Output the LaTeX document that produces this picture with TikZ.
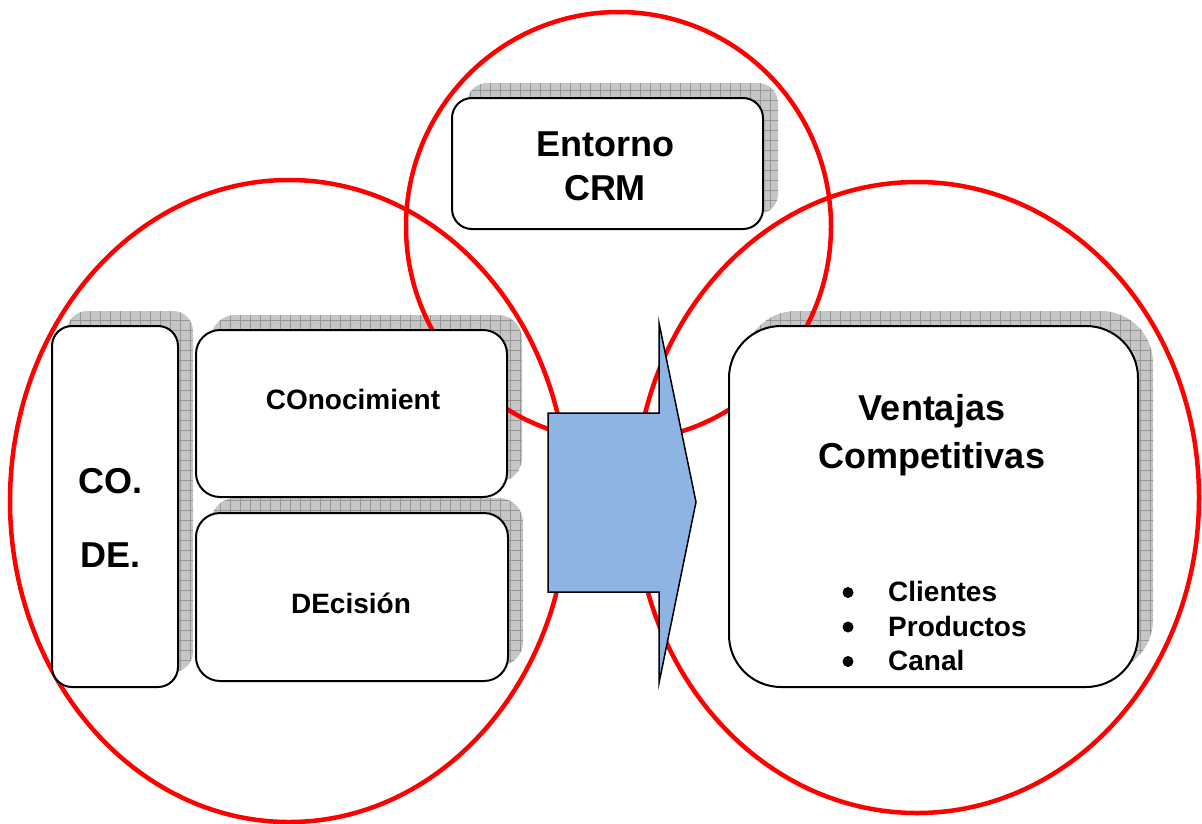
\documentclass[tikz,border=0pt]{standalone}
\usepackage{fontspec}
\setmainfont{Liberation Sans}

\pgfdeclarelayer{shadowlayer}
\pgfdeclarelayer{ringlayer}
\pgfsetlayers{shadowlayer,ringlayer,main}

\definecolor{ringred}{RGB}{255,0,0}
\definecolor{arrowblue}{RGB}{141,180,226}
\definecolor{shadowgray}{RGB}{198,198,198}
\definecolor{gridgray}{RGB}{150,150,150}

\tikzset{
  card/.style={draw=black, line width=2pt, fill=white, rounded corners=#1,
    inner sep=0pt, outer sep=0pt},
  cardshadow/.style={fill=shadowgray, rounded corners=#1,
    path picture={\draw[gridgray, line width=0.5pt, step=10pt]
      (path picture bounding box.south west) grid (path picture bounding box.north east);}},
  ring/.style={draw=ringred, line width=4.5pt},
  bigtext/.style={font=\fontsize{36}{#1}\selectfont\bfseries, inner sep=0pt, anchor=base},
  smalltext/.style={font=\fontsize{28}{34.5}\selectfont\bfseries, inner sep=0pt},
  blockarrow/.style={fill=arrowblue, draw=black, line width=1.5pt, line join=miter},
}

\begin{document}
\begin{tikzpicture}[x=1pt, y=-1pt]
  \useasboundingbox (0,0) rectangle (1202,823);

  % boxes
  \node[card=20, minimum width=126pt, minimum height=361pt] (code) at (115,506.5) {};
  \node[card=24, minimum width=311pt, minimum height=167pt] (cono) at (351.5,413.5) {};
  \node[card=24, minimum width=312pt, minimum height=168pt] (deci) at (352,597) {};
  \node[card=20, minimum width=311pt, minimum height=131pt] (entorno) at (607.5,163.5) {};
  \node[card=52, minimum width=409pt, minimum height=361pt] (ventajas) at (933.5,506.5) {};

  % grid shadows behind the boxes, offset up and to the right
  \begin{pgfonlayer}{shadowlayer}
    \foreach \b/\r in {code/20, cono/24, deci/24, entorno/20, ventajas/52}{
      \path[cardshadow=\r] ([shift={(15,-15)}]\b.south west) rectangle ([shift={(15,-15)}]\b.north east);
    }
  \end{pgfonlayer}

  % the three red rings
  \begin{pgfonlayer}{ringlayer}
    \draw[ring] (618.5,226.5) ellipse [x radius=212.5pt, y radius=214.5pt];
    \draw[ring] (289,501) ellipse [x radius=279pt, y radius=321pt];
    \draw[ring] (917,497.5) ellipse [x radius=282pt, y radius=315.5pt];
  \end{pgfonlayer}

  % block arrow
  \coordinate (a1) at (548,413);
  \coordinate (a2) at (659,413);
  \coordinate (a3) at (659,323);
  \coordinate (tip) at (696,502);
  \coordinate (a5) at (659,683);
  \coordinate (a6) at (659,592);
  \coordinate (a7) at (548,592);
  \draw[blockarrow] (a1) -- (a2) -- (a3) -- (tip) -- (a5) -- (a6) -- (a7) -- cycle;

  % labels
  \node[bigtext=44] (tentorno) at (605,156)
    {\begin{tabular}[t]{@{}c@{}}Entorno\\CRM\end{tabular}};
  \node[bigtext=74] (tcode) at (110.5,493)
    {\begin{tabular}[t]{@{}c@{}}CO.\\DE.\end{tabular}};
  \node[bigtext=48] (tventajas) at (932,420)
    {\begin{tabular}[t]{@{}c@{}}Ventajas\\Competitivas\end{tabular}};
  \node[smalltext, anchor=base] (tcono) at (353,409) {COnocimient};
  \node[smalltext, anchor=base] (tdeci) at (351,613) {DEcisión};

  % bullet list
  \node[smalltext, anchor=base west] (li1) at (888,601.5) {Clientes};
  \node[smalltext, anchor=base west] (li2) at (888,636) {Productos};
  \node[smalltext, anchor=base west] (li3) at (888,670.5) {Canal};
  \foreach \y in {592.5,627,661.5}{
    \fill (848,\y) circle [radius=5.5pt];
  }
\end{tikzpicture}
\end{document}
